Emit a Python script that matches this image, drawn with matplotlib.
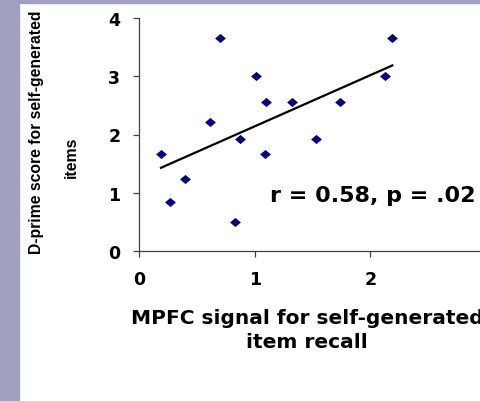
import numpy as np
import matplotlib
matplotlib.use("Agg")
import matplotlib.pyplot as plt
from matplotlib.patches import Rectangle

# valori
mpfc = [0.19, 0.27, 0.40, 0.61, 0.70, 0.83, 0.87, 1.01, 1.09, 1.10, 1.32, 1.53, 1.74, 2.13, 2.19]
dprime = [1.67, 0.84, 1.23, 2.21, 3.65, 0.50, 1.93, 3.00, 1.67, 2.56, 2.56, 1.93, 2.56, 3.00, 3.65]
x_ticks = [0, 1, 2, 3]
y_ticks = [0, 1, 2, 3, 4]
stats_text = "r = 0.58, p = .02"

W, H = 481, 402
fig = plt.figure(figsize=(W / 100, H / 100), dpi=100, facecolor="white")

# benzile lila din stanga si de sus
strip = "#a0a0c0"
fig.patches.append(Rectangle((0, 0), 19 / W, 1, transform=fig.transFigure, color=strip, zorder=0))
fig.patches.append(Rectangle((0, 1 - 4 / H), 1, 4 / H, transform=fig.transFigure, color=strip, zorder=0))

ax = fig.add_axes([139 / W, 1 - 252 / H, (486 - 139) / W, (252 - 19) / H])
ax.set_facecolor("white")

diamond = [(-1, 0), (0, 0.85), (1, 0), (0, -0.85)]
ax.plot(mpfc, dprime, linestyle="none", marker=diamond, ms=7.8,
        color="#000080", markeredgewidth=0, zorder=2)

# linia de regresie
slope, icpt = np.polyfit(mpfc, dprime, 1)
xs = np.array([min(mpfc), max(mpfc)])
ax.plot(xs, slope * xs + icpt, color="black", lw=1.6, zorder=3)

ax.set_xlim(0, 3)
ax.set_ylim(0, 4)
ax.set_xticks(x_ticks)
ax.set_yticks(y_ticks)
for s in ["top", "right"]:
    ax.spines[s].set_visible(False)
for s in ["left", "bottom"]:
    ax.spines[s].set_color("#404040")
    ax.spines[s].set_linewidth(0.9)
ax.tick_params(direction="out", length=4.5, width=0.9, color="#404040", pad=9)
for lab in ax.get_xticklabels() + ax.get_yticklabels():
    lab.set_fontfamily("DejaVu Sans")
    lab.set_fontweight("bold")
    lab.set_fontsize(12.5)

ax.text(2.91, 0.86, stats_text, ha="right", va="baseline",
        fontfamily="DejaVu Sans", fontweight="bold", fontsize=16)

fig.text(37 / W, 1 - 132 / H, "D-prime score for self-generated", rotation=90,
         ha="center", va="center", fontfamily="Liberation Sans", fontweight="bold", fontsize=11.3)
fig.text(71 / W, 1 - 157 / H, "items", rotation=90,
         ha="center", va="center", fontfamily="Liberation Sans", fontweight="bold", fontsize=11.3)

fig.text(307 / W, 1 - 324 / H, "MPFC signal for self-generated", ha="center", va="baseline",
         fontfamily="DejaVu Sans", fontweight="bold", fontsize=14.5)
fig.text(307 / W, 1 - 348 / H, "item recall", ha="center", va="baseline",
         fontfamily="DejaVu Sans", fontweight="bold", fontsize=14.5)

fig.savefig("out.png", dpi=100, facecolor="white")
